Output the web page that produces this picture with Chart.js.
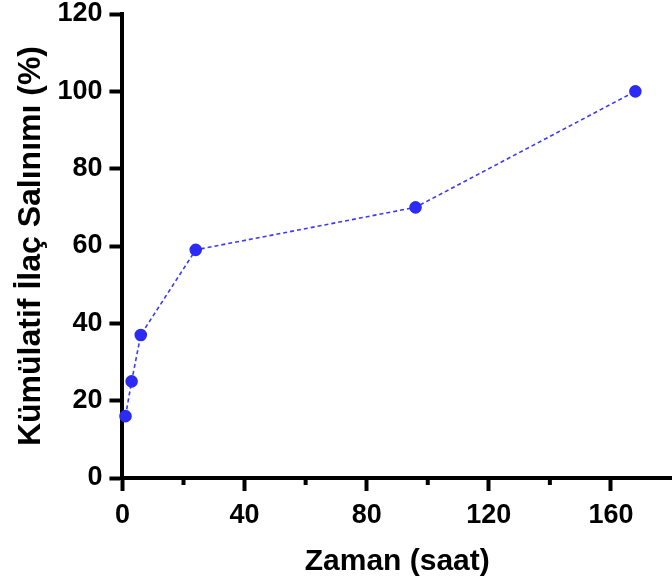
<!DOCTYPE html>
<html lang="tr">
  <head>
    <title>Kümülatif İlaç Salınımı</title>
    <meta charset="utf-8">
    <script src="https://cdn.jsdelivr.net/npm/chart.js@4.4.1/dist/chart.umd.min.js"></script>
    <style>
      html, body { margin: 0; padding: 0; background: #fff; overflow: hidden; }
      #wrap { position: relative; width: 672px; height: 585px; }
      canvas { display: block; }
    </style>
  </head>
  <body>
    <div id="wrap">
        <canvas id="myChart1" width="672" height="585"></canvas>
    </div>
  <script>
    // veri
    var zaman = [1, 3, 6, 24, 96, 168];
    var salinim = [16, 25, 37, 59, 70, 100];
    var xTicks = [0, 40, 80, 120, 160];
    var xMinorTicks = [20, 60, 100, 140];
    var yTicks = [0, 20, 40, 60, 80, 100, 120];

    var fontFam = "'Liberation Sans', Arial, Helvetica, sans-serif";

    // ara çentikler (x ekseni)
    var minorTicks = {
        id: 'minorTicks',
        afterDraw: function(chart) {
            var ctx = chart.ctx;
            var sx = chart.scales.x;
            ctx.save();
            ctx.strokeStyle = '#000';
            ctx.lineWidth = 4;
            xMinorTicks.forEach(function(v) {
                var px = sx.getPixelForValue(v);
                ctx.beginPath();
                ctx.moveTo(px, sx.top);
                ctx.lineTo(px, sx.top + 7);
                ctx.stroke();
            });
            ctx.restore();
        }
    };

    var ctx = document.getElementById("myChart1").getContext('2d');
    var myChart1 = new Chart(ctx, {
        type: 'scatter',
        data: {
            datasets: [{
                data: zaman.map(function(x, i) { return {x: x, y: salinim[i]}; }),
                showLine: true,
                borderColor: '#3a3aff',
                borderWidth: 1.6,
                borderDash: [4, 3],
                backgroundColor: '#2b2bf5',
                pointBorderColor: '#2b2bf5',
                pointRadius: 5.5,
                pointHoverRadius: 5.5,
                clip: false
            }]
        },
        plugins: [minorTicks],
        options: {
            responsive: false,
            animation: false,
            layout: { autoPadding: false, padding: { top: 14, right: 0, left: 12, bottom: 5 } },
            plugins: { legend: { display: false }, tooltip: { enabled: false } },
            scales: {
                x: {
                    type: 'linear',
                    min: 0,
                    max: 180,
                    afterBuildTicks: function(axis) {
                        axis.ticks = xTicks.map(function(v) { return {value: v}; });
                    },
                    afterFit: function(axis) { axis.paddingRight = 0; axis.height = 102; },
                    border: { display: true, width: 4, color: '#000' },
                    grid: { drawOnChartArea: false, drawTicks: true, tickLength: 13, tickWidth: 4, tickColor: '#000' },
                    ticks: { color: '#000', padding: 8, maxRotation: 0, font: { family: fontFam, size: 27, weight: 'bold' } },
                    title: { display: true, text: 'Zaman (saat)', color: '#000', padding: { top: 2, bottom: 0 }, font: { family: fontFam, size: 30, weight: 'bold' } }
                },
                y: {
                    min: 0,
                    max: 120,
                    afterBuildTicks: function(axis) {
                        axis.ticks = yTicks.map(function(v) { return {value: v}; });
                    },
                    afterFit: function(axis) { axis.paddingTop = 0; axis.paddingBottom = 0; },
                    border: { display: true, width: 4, color: '#000' },
                    grid: { drawOnChartArea: false, drawTicks: true, tickLength: 13, tickWidth: 4, tickColor: '#000' },
                    ticks: { color: '#000', padding: 7, font: { family: fontFam, size: 27, weight: 'bold' } },
                    title: { display: true, text: 'Kümülatif İlaç Salınımı (%)', color: '#000', padding: { top: 0, bottom: 0 }, font: { family: fontFam, size: 32, weight: 'bold' } }
                }
            }
        }
    });
    </script>
  </body>
</html>
